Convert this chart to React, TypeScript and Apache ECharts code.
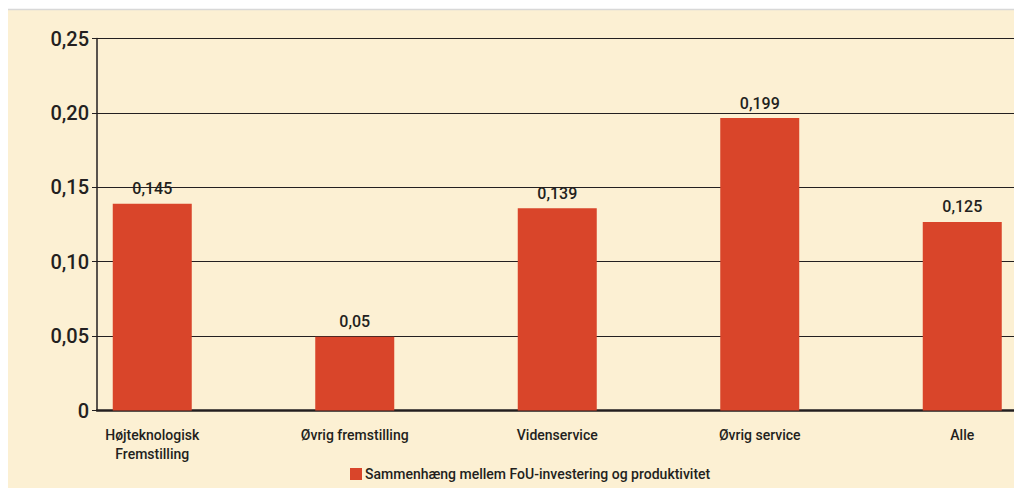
import React, { useEffect, useRef } from "react";
import * as echarts from "echarts";

const categories = ["Højteknologisk\nFremstilling", "Øvrig fremstilling", "Videnservice", "Øvrig service", "Alle"];
const barValues = [0.139, 0.0495, 0.136, 0.1965, 0.1267];
const barLabels = ["0,145", "0,05", "0,139", "0,199", "0,125"];
const seriesName = "Sammenhæng mellem FoU-investering og produktivitet";
const yMin = 0;
const yMax = 0.25;
const yInterval = 0.05;

const FONT = "Roboto";
const TEXT = "#231f20";
const RED = "#d9452a";
const CW = 1100;

export default function App() {
  const ref = useRef<HTMLDivElement>(null);
  useEffect(() => {
    const chart = echarts.init(ref.current!, null, { renderer: "svg" });
    const top = 38.5;
    const bottom = 77.5;
    chart.setOption({
      animation: false,
      backgroundColor: "#ffffff",
      graphic: [
        { type: "rect", z: -10, shape: { x: 8, y: 10, width: CW - 8, height: 478 }, style: { fill: "#fcf0d3" } },
        { type: "line", z: -9, shape: { x1: 8, y1: 9.5, x2: CW, y2: 9.5 }, style: { stroke: "#d8d8d8", lineWidth: 1.5 } },
      ],
      grid: [
        { left: 97, right: CW - 1014, top, bottom },
        { left: 51, right: CW - 1063.5, top, bottom },
      ],
      xAxis: [
        {
          gridIndex: 0, type: "value", min: 0, max: 1,
          axisLine: { show: true, lineStyle: { color: TEXT, width: 2.5 } },
          axisTick: { show: false }, axisLabel: { show: false }, splitLine: { show: false },
        },
        {
          gridIndex: 1, type: "category", data: categories,
          axisLine: { show: false }, axisTick: { show: false },
          axisLabel: { fontFamily: FONT, fontSize: 14, fontWeight: 500, color: TEXT, margin: 15, lineHeight: 19, interval: 0 },
        },
      ],
      yAxis: [
        {
          gridIndex: 0, type: "value", min: yMin, max: yMax, interval: yInterval,
          axisLine: { show: true, lineStyle: { color: TEXT, width: 1.5 } },
          axisTick: { show: true, length: 5, lineStyle: { color: TEXT, width: 1 } },
          axisLabel: {
            fontFamily: FONT, fontSize: 20, fontWeight: 500, color: TEXT, margin: 8,
            formatter: (v: number) => (v === 0 ? "0" : v.toFixed(2).replace(".", ",")),
          },
          splitLine: { show: true, lineStyle: { color: TEXT, width: 1.2 } },
        },
        {
          gridIndex: 1, type: "value", min: yMin, max: yMax, interval: yInterval, show: false,
        },
      ],
      legend: {
        show: true,
        bottom: 2,
        left: 345,
        itemWidth: 12, itemHeight: 12, itemGap: 4,
        icon: "rect",
        textStyle: { fontFamily: FONT, fontSize: 14, fontWeight: 500, color: TEXT, padding: [0, 0, 0, -2] },
      },
      series: [
        {
          name: seriesName,
          type: "bar",
          xAxisIndex: 1, yAxisIndex: 1,
          data: barValues,
          barWidth: 79,
          itemStyle: { color: RED },
          label: {
            show: true, position: "top", distance: 7,
            fontFamily: FONT, fontSize: 16, fontWeight: 500, color: TEXT,
            formatter: (p: any) => barLabels[p.dataIndex],
          },
        },
      ],
    });
    return () => chart.dispose();
  }, []);
  return (
    <div style={{ position: "absolute", left: 0, top: 0, width: 1014, height: 488, overflow: "hidden" }}>
      <div ref={ref} style={{ width: CW, height: 488 }} />
    </div>
  );
}
